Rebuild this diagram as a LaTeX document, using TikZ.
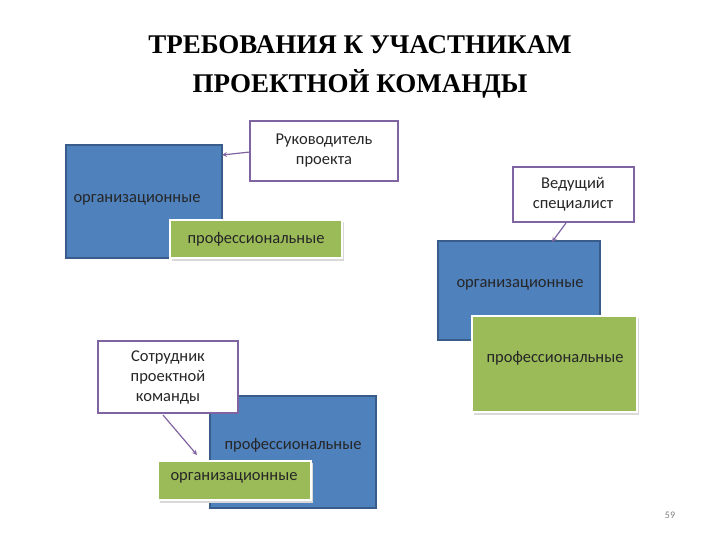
\documentclass[tikz,border=0pt]{standalone}
\usepackage{fontspec}
\setmainfont{Liberation Serif}
\newfontfamily\calfont{Carlito}
\begin{document}
\begin{tikzpicture}[x=1pt,y=-1pt,
  bluebox/.style={fill=blueF,draw=blueD,line width=1.2pt},
  greenbox/.style={fill=greenF,draw=white,line width=2.5pt},
  whitebox/.style={fill=white,draw=purpleD,line width=1.8pt},
  lbl/.style={font=\calfont\fontsize{16.5}{20}\selectfont,text=black!85,align=center},
  arr/.style={-stealth,draw=purpleD,line width=1.2pt},
  shadowf/.style={fill=black!15}]
\definecolor{blueF}{HTML}{4F81BD}
\definecolor{blueD}{HTML}{385D8A}
\definecolor{greenF}{HTML}{9BBB59}
\definecolor{purpleD}{HTML}{8064A2}
\useasboundingbox (0,0) rectangle (720,540);
\node[font=\bfseries\fontsize{27}{39}\selectfont,align=center] (title) at (360,67) {ТРЕБОВАНИЯ К УЧАСТНИКАМ\\ПРОЕКТНОЙ КОМАНДЫ};
% group 1
\draw[bluebox] (66,145) rectangle (222,258);
\node[lbl] (o1) at (137,200) {организационные};
\fill[shadowf] (172,222) rectangle (344,261);
\draw[greenbox] (170,220) rectangle (342,258);
\node[lbl] (p1) at (256,239) {профессиональные};
\draw[whitebox] (250,121) rectangle (398,181);
\node[lbl] (r1) at (324,151) {Руководитель\\проекта};
\coordinate (a1s) at (250,152); \coordinate (a1e) at (222,155);
\draw[arr] (a1s) -- (a1e);
% group 2
\draw[whitebox] (513,167) rectangle (634,222);
\node[lbl] (r2) at (573,194) {Ведущий\\специалист};
\draw[bluebox] (438,241) rectangle (600,340);
\node[lbl] (o2) at (520,285) {организационные};
\fill[shadowf] (474,318) rectangle (639,415);
\draw[greenbox] (472,316) rectangle (637,412);
\node[lbl] (p2) at (555,358) {профессиональные};
\coordinate (a2s) at (566,223); \coordinate (a2e) at (552,242);
\draw[arr] (a2s) -- (a2e);
% group 3
\draw[bluebox] (210,396) rectangle (376,508);
\node[lbl] (p3) at (293,445) {профессиональные};
\fill[shadowf] (160,463) rectangle (313,503);
\draw[greenbox] (158,461) rectangle (311,500);
\node[lbl] (o3) at (234,478) {организационные};
\draw[whitebox] (98,341) rectangle (238,413);
\node[lbl] (r3) at (168,377) {Сотрудник\\проектной\\команды};
\coordinate (a3s) at (163,415); \coordinate (a3e) at (197,455);
\draw[arr] (a3s) -- (a3e);
\node[font=\calfont\fontsize{10}{12}\selectfont,text=black!50] (pg) at (670,515) {59};
\end{tikzpicture}
\end{document}
